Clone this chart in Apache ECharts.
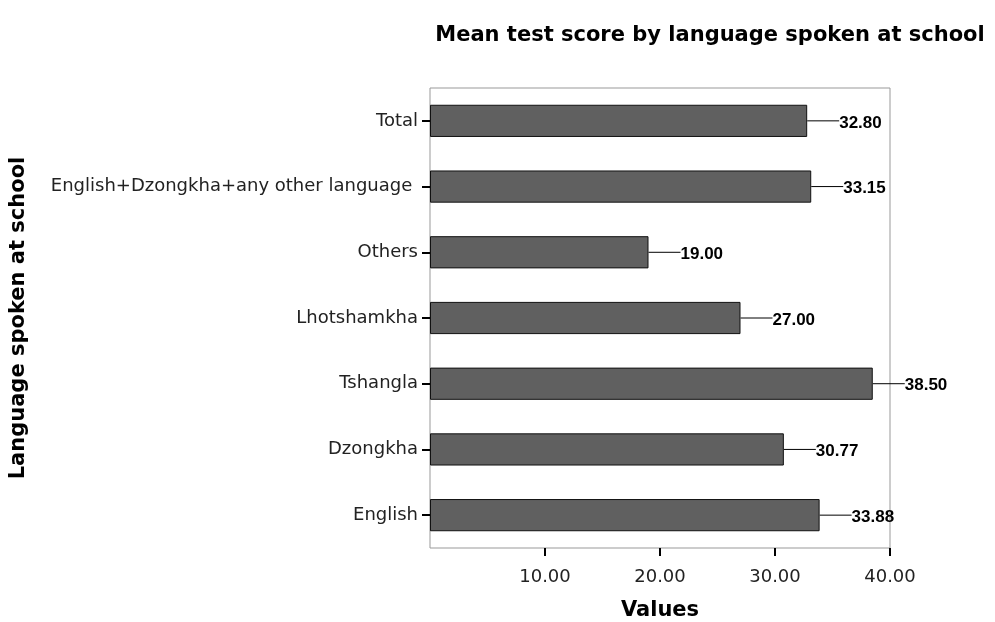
<!DOCTYPE html>
<html>
<head>
<meta charset="utf-8">
<script src="https://cdn.jsdelivr.net/npm/echarts@6/dist/echarts.min.js"></script>
<style>
  html, body { margin: 0; padding: 0; background: #fff; }
  #chart { width: 995px; height: 622px; }
</style>
</head>
<body>
<div id="chart"></div>
<script>
// Categories listed bottom to top
const categories = [
  'English',
  'Dzongkha',
  'Tshangla',
  'Lhotshamkha',
  'Others',
  'English+Dzongkha+any other language ',
  'Total'
];
const meanScores = [33.88, 30.77, 38.50, 27.00, 19.00, 33.15, 32.80];
const xTicks = [10, 20, 30, 40];

const chart = echarts.init(document.getElementById('chart'));

const textFont = '"DejaVu Sans", Verdana, sans-serif';

chart.setOption({
  animation: false,
  title: {
    text: 'Mean test score by language spoken at school',
    left: 705,
    textAlign: 'center',
    top: 20,
    textStyle: { fontFamily: textFont, fontSize: 21, fontWeight: 'bold', color: '#000' }
  },
  grid: {
    left: 430, right: 105, top: 88, bottom: 74,
    containLabel: false,
    outerBoundsMode: 'none',
    show: true, borderColor: '#999', borderWidth: 1, backgroundColor: 'transparent'
  },
  xAxis: {
    type: 'value',
    min: 0, max: 40, interval: 10,
    name: 'Values',
    nameLocation: 'middle',
    nameGap: 52,
    nameTextStyle: { fontFamily: textFont, fontSize: 21, fontWeight: 'bold', color: '#000' },
    axisLine: { show: false },
    splitLine: { show: false },
    axisTick: { show: true, length: 8, lineStyle: { color: '#000', width: 2 }, customValues: xTicks },
    axisLabel: {
      customValues: xTicks,
      margin: 20,
      fontFamily: textFont, fontSize: 18, color: '#222',
      formatter: v => v.toFixed(2)
    }
  },
  yAxis: {
    type: 'category',
    data: categories,
    name: 'Language spoken at school',
    nameLocation: 'middle',
    nameRotate: 90,
    nameGap: 401,
    nameTextStyle: { fontFamily: textFont, fontSize: 21, fontWeight: 'bold', color: '#000' },
    axisLine: { show: false },
    axisTick: { show: true, alignWithLabel: true, length: 8, lineStyle: { color: '#000', width: 2 } },
    axisLabel: {
      margin: 12, padding: [6, 0, 0, 0],
      fontFamily: textFont, fontSize: 18, color: '#222', interval: 0
    }
  },
  series: [
    {
      type: 'bar',
      data: meanScores,
      barCategoryGap: '51%',
      itemStyle: { color: '#606060', borderColor: '#111', borderWidth: 1 },
      silent: true
    },
    {
      // leader line plus value text to the right of each bar
      type: 'custom',
      silent: true,
      data: meanScores.map((v, i) => [v, i]),
      encode: { x: 0, y: 1 },
      renderItem: function (params, api) {
        const v = api.value(0);
        const p = api.coord([v, api.value(1)]);
        return {
          type: 'group',
          children: [
            {
              type: 'line',
              shape: { x1: p[0], y1: p[1], x2: p[0] + 32, y2: p[1] },
              style: { stroke: '#000', lineWidth: 1 }
            },
            {
              type: 'text',
              x: p[0] + 32,
              y: p[1] + 2,
              style: {
                text: v.toFixed(2),
                font: 'bold 17px "Liberation Sans", Arial, sans-serif',
                fill: '#000',
                textAlign: 'left',
                textVerticalAlign: 'middle'
              }
            }
          ]
        };
      }
    }
  ]
});
</script>
</body>
</html>
